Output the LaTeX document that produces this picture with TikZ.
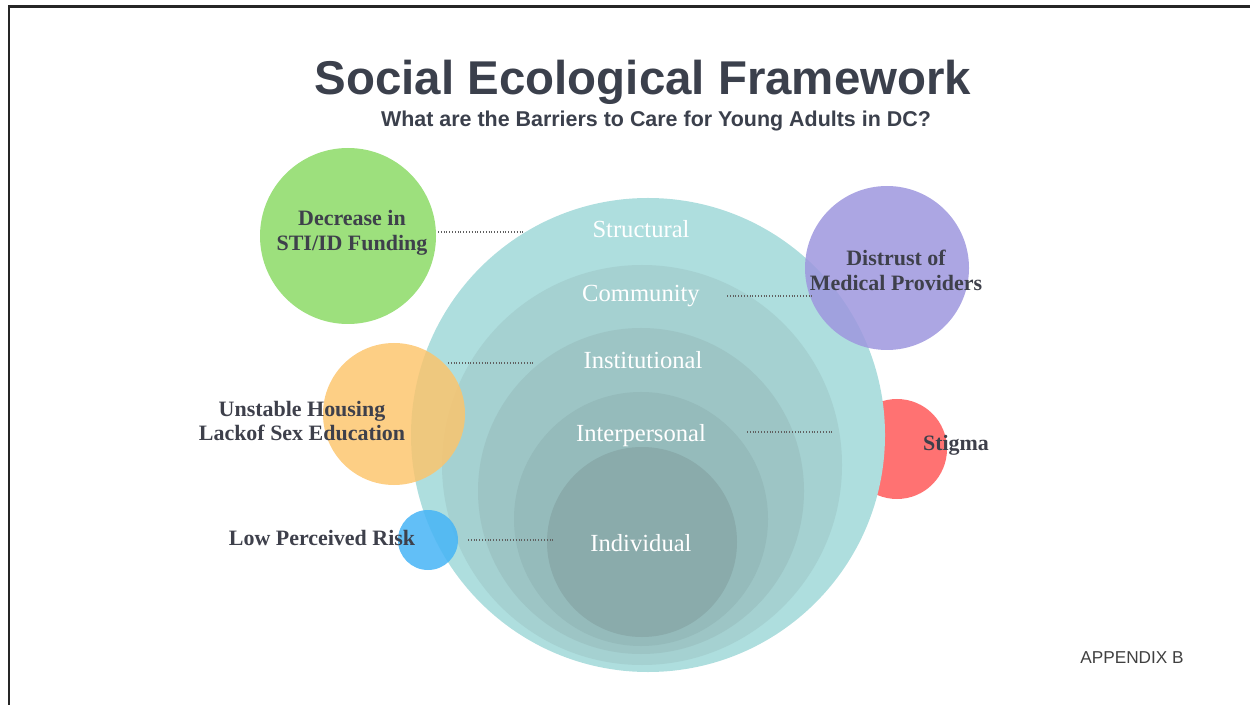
\documentclass[tikz,border=0pt]{standalone}
\usepackage{fontspec}
\setmainfont{Liberation Sans}
\newfontfamily\serifface{Liberation Serif}

\definecolor{titleink}{HTML}{3B404C}
\definecolor{labelink}{HTML}{3E404B}
\definecolor{tealA}{HTML}{AEDEDE}
\definecolor{tealB}{HTML}{A5D1D1}
\definecolor{tealC}{HTML}{9DC5C5}
\definecolor{tealD}{HTML}{95BBBB}
\definecolor{tealE}{HTML}{8AABAB}
\definecolor{fundgreen}{HTML}{9DE07D}
\definecolor{trustpurple}{HTML}{9E97DE}
\definecolor{houseorange}{HTML}{FDC46A}
\definecolor{stigmared}{HTML}{FF7272}
\definecolor{riskblue}{HTML}{46B4F6}

\begin{document}
\begin{tikzpicture}[x=0.02cm, y=-0.02cm,
  layer/.style={text=white, anchor=base, font=\serifface\fontsize{14}{16}\selectfont},
  barrier/.style={text=labelink, align=center, font=\serifface\bfseries\fontsize{12.5}{14.2}\selectfont},
  leader/.style={gray!75!black, line width=0.7pt, dash pattern=on 0.5pt off 1.1pt}]
  \useasboundingbox (0,0) rectangle (1250,705);
  % --- slide frame (top and left edge only) ---
  \draw[black!85, line width=1.7pt] (9,705) -- (9,7) -- (1250,7);
  % --- heading ---
  \node[anchor=base, text=titleink, font=\bfseries\fontsize{27}{32}\selectfont] (title) at (643,95) {Social Ecological Framework};
  \node[anchor=base, text=titleink, font=\bfseries\fontsize{12.2}{14}\selectfont] (subtitle) at (656,127) {What are the Barriers to Care for Young Adults in DC?};
  % --- barrier behind the rings ---
  \fill[stigmared] (897,449) circle (50);
  % --- nested levels (outer -> inner) ---
  \fill[tealA] (648,435) circle (237);   % structural
  \fill[tealB] (642,465) circle (200);   % community
  \fill[tealC] (641,491) circle (163);   % institutional
  \fill[tealD] (641,519) circle (127);   % interpersonal
  \fill[tealE] (642,542) circle (95);    % individual
  % --- barrier bubbles ---
  \fill[fundgreen] (348,236) circle (88);
  \fill[trustpurple, fill opacity=0.85] (887,268) circle (82);
  \fill[houseorange, fill opacity=0.82] (394,414) circle (71);
  \fill[riskblue, fill opacity=0.85] (428,540) circle (30);
  % --- level labels ---
  \node[layer] (structural) at (641,238) {Structural};
  \node[layer] (community) at (641,302) {Community};
  \node[layer] (institutional) at (643,369) {Institutional};
  \node[layer] (interpersonal) at (641,441) {Interpersonal};
  \node[layer] (individual) at (641,551) {Individual};
  % --- barrier labels ---
  \node[barrier] (funding) at (352,233) {Decrease in\\STI/ID Funding};
  \node[barrier] (distrust) at (896,270) {Distrust of\\Medical Providers};
  \node[barrier] (housing) at (302,421) {Unstable Housing\\Lackof Sex Education};
  \node[barrier, anchor=base] (stigma) at (956,450) {Stigma};
  \node[barrier, anchor=base] (risk) at (322,545) {Low Perceived Risk};
  \node[anchor=base, text=black!75, font=\fontsize{9.8}{12}\selectfont] (appendix) at (1132,663) {APPENDIX B};
  % --- dotted leaders ---
  \coordinate (fundA) at (438,232);  \coordinate (fundB) at (523,232);
  \coordinate (trustA) at (727,296); \coordinate (trustB) at (812,296);
  \coordinate (instA) at (448,363);  \coordinate (instB) at (533,363);
  \coordinate (interA) at (747,432); \coordinate (interB) at (832,432);
  \coordinate (indivA) at (468,540); \coordinate (indivB) at (553,540);
  \foreach \a/\b in {fundA/fundB, trustA/trustB, instA/instB, interA/interB, indivA/indivB}
    \draw[leader] (\a) -- (\b);
\end{tikzpicture}
\end{document}
